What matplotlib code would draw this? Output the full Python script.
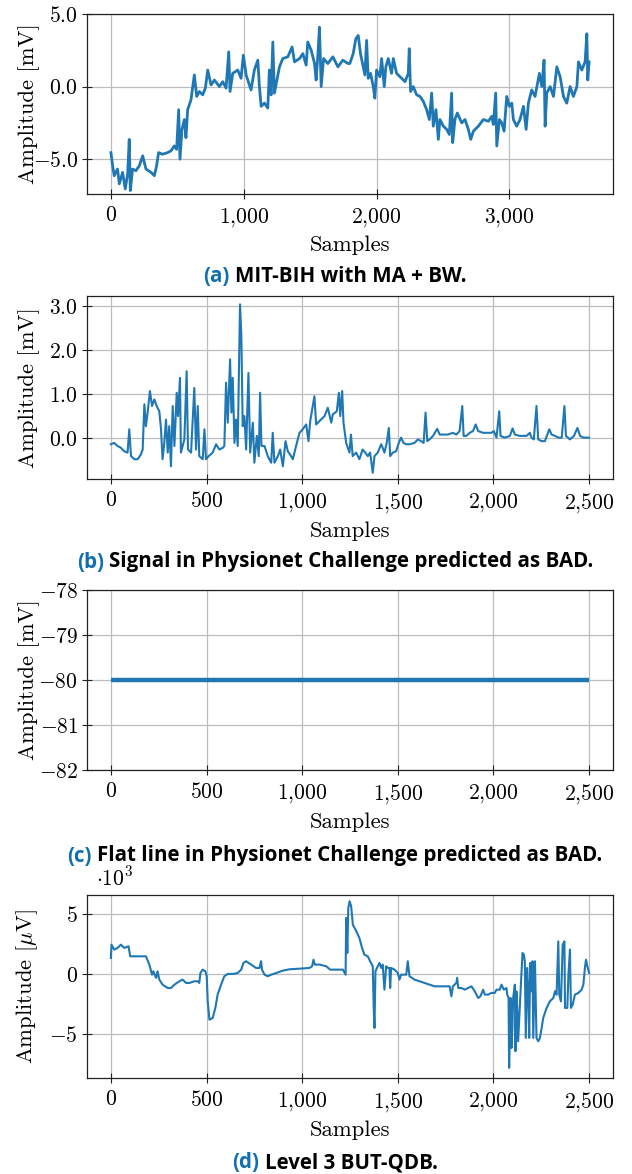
import matplotlib
matplotlib.use("Agg")
import matplotlib.pyplot as plt
from matplotlib.ticker import FuncFormatter, FixedLocator

# (a) MIT-BIH with MA + BW  [mV]
a_samples = [0, 13, 25, 50, 63, 88, 108, 126, 138, 146, 163, 188, 214, 239, 264, 302, 327, 344,
             359, 389, 427, 452, 477, 495, 510, 520, 535, 553, 565, 578, 603, 628, 646, 666, 691,
             711, 729, 754, 779, 817, 842, 867, 887, 897, 917, 955, 980, 997, 1018, 1055, 1080,
             1106, 1118, 1131, 1156, 1181, 1193, 1206, 1219, 1231, 1269, 1294, 1332, 1364, 1382,
             1420, 1445, 1470, 1482, 1508, 1533, 1545, 1558, 1570, 1583, 1601, 1633, 1671, 1709,
             1746, 1784, 1799, 1824, 1844, 1862, 1879, 1899, 1912, 1925, 1937, 1955, 1975, 1987,
             2000, 2025, 2038, 2058, 2070, 2088, 2113, 2126, 2151, 2176, 2214, 2239, 2246, 2256,
             2276, 2302, 2327, 2352, 2377, 2397, 2415, 2427, 2447, 2465, 2477, 2503, 2528, 2548,
             2565, 2573, 2590, 2608, 2641, 2666, 2691, 2709, 2729, 2766, 2804, 2842, 2867, 2879,
             2897, 2905, 2925, 2942, 2960, 2980, 3000, 3018, 3030, 3055, 3080, 3106, 3126, 3143,
             3168, 3193, 3226, 3244, 3261, 3269, 3281, 3307, 3332, 3357, 3382, 3407, 3432, 3457,
             3482, 3508, 3520, 3545, 3570, 3583, 3590, 3600]
a_values = [-4.55, -5.45, -6.14, -5.68, -6.70, -5.91, -7.05, -6.02, -3.64, -7.16, -5.68, -5.80,
            -5.45, -4.77, -5.68, -5.91, -6.14, -5.45, -4.55, -4.66, -4.55, -4.43, -4.09, -4.32,
            -1.59, -5.00, -2.95, -2.27, -3.52, -1.59, -0.91, 0.80, -0.68, -0.34, -0.57, -0.11,
            1.14, 0.11, 0.45, 0.00, 0.34, -0.11, 2.39, -0.34, 0.91, 1.14, 0.57, 2.16, 0.80, -0.23,
            1.14, 1.82, 0.00, -1.36, -1.14, -1.48, 1.14, -0.57, 3.07, -0.45, 1.36, 1.93, 2.05,
            2.73, 1.70, 1.93, 2.27, 1.48, 3.07, 2.50, 1.59, 0.45, 2.16, 4.09, 0.00, 1.93, 1.59,
            2.05, 1.36, 1.82, 1.59, 1.59, 2.27, 3.30, 3.52, 2.27, 1.36, 0.80, 3.18, 0.57, 0.91,
            0.00, -0.80, 1.14, 0.68, 1.93, 0.00, 1.36, 1.93, 0.91, 1.93, 0.91, 0.68, 0.34, 0.91,
            2.61, -0.34, 0.00, -0.57, -0.68, -1.02, -1.59, -2.27, -0.45, -2.73, -1.59, -3.64,
            -2.27, -2.73, -2.95, -3.30, -0.45, -3.86, -2.27, -1.82, -2.50, -2.27, -2.95, -3.64,
            -3.07, -2.73, -2.27, -2.39, -2.05, -2.61, -0.45, -4.09, -2.27, -2.50, -3.07, -0.68,
            -1.36, -1.14, -2.27, -2.73, -2.27, -1.36, -2.95, -1.14, -0.23, -0.68, 0.91, 0.00,
            1.82, -2.73, -0.45, 0.00, -0.68, 1.36, 0.68, -0.68, -1.14, 0.00, -0.68, 0.00, 1.70,
            1.14, 1.70, 3.64, 0.45, 1.70]

# (b) Physionet Challenge, predicted BAD  [mV]
b_samples = [0, 17, 35, 52, 70, 87, 96, 105, 122, 140, 157, 166, 175, 183, 192, 204, 215, 227,
             239, 253, 262, 270, 279, 288, 297, 305, 314, 323, 332, 344, 351, 361, 366, 384, 396,
             403, 419, 436, 445, 454, 462, 480, 489, 497, 511, 532, 550, 567, 585, 593, 602, 611,
             623, 630, 637, 646, 654, 663, 675, 682, 689, 698, 707, 719, 728, 742, 750, 763, 773,
             780, 787, 803, 820, 838, 846, 855, 873, 885, 899, 913, 925, 942, 951, 968, 986, 1003,
             1021, 1033, 1042, 1064, 1073, 1091, 1117, 1134, 1152, 1160, 1181, 1192, 1199, 1209,
             1216, 1230, 1247, 1255, 1264, 1282, 1299, 1316, 1330, 1343, 1355, 1369, 1378, 1395,
             1413, 1421, 1430, 1442, 1453, 1460, 1474, 1491, 1505, 1517, 1530, 1544, 1561, 1587,
             1605, 1622, 1635, 1645, 1654, 1666, 1684, 1706, 1719, 1736, 1762, 1788, 1806, 1823,
             1837, 1844, 1858, 1876, 1893, 1907, 1920, 1946, 1972, 1989, 2002, 2016, 2030, 2037,
             2059, 2086, 2100, 2112, 2138, 2156, 2173, 2190, 2199, 2211, 2225, 2234, 2252, 2269,
             2292, 2304, 2322, 2339, 2357, 2371, 2379, 2400, 2421, 2439, 2453, 2470, 2488, 2500]
b_values = [-0.14, -0.11, -0.18, -0.22, -0.30, -0.33, 0.20, -0.41, -0.48, -0.48, -0.37, -0.26,
            0.77, 0.27, 0.58, 1.07, 0.73, 0.88, 0.73, 0.61, 0.20, -0.48, -0.11, 0.42, -0.33, 0.27,
            -0.64, 0.73, -0.18, 1.03, 0.50, 1.37, -0.33, -0.03, 1.52, -0.26, -0.33, 1.14, -0.26,
            0.73, -0.41, -0.48, 0.20, -0.48, -0.41, -0.33, -0.14, -0.26, -0.22, -0.18, 1.26, 0.35,
            1.79, 0.58, 1.37, -0.11, 0.42, -0.18, 3.04, 2.32, 0.27, 0.50, -0.26, 1.48, -0.33,
            0.35, -0.56, 0.05, -0.41, 1.03, -0.18, -0.18, -0.41, -0.56, 0.12, -0.56, -0.41, -0.26,
            -0.64, -0.07, -0.30, -0.41, -0.48, -0.18, 0.12, 0.20, 0.31, -0.07, 0.39, 0.95, 0.31,
            0.39, 0.50, 0.69, 0.35, 0.54, 0.61, 1.03, 0.50, 1.07, 0.35, -0.11, -0.33, 0.08, -0.41,
            -0.33, -0.48, -0.26, -0.33, -0.41, -0.33, -0.79, -0.41, -0.33, -0.14, -0.22, -0.33,
            -0.11, 0.23, -0.41, -0.33, -0.30, -0.11, 0.01, -0.11, -0.14, -0.14, -0.11, -0.03,
            -0.07, -0.11, 0.58, -0.07, -0.03, 0.05, 0.21, 0.08, 0.08, 0.08, 0.12, 0.08, 0.16, 0.73,
            0.05, 0.05, 0.12, 0.16, 0.31, 0.16, 0.12, 0.12, 0.12, 0.16, 0.01, 0.61, 0.05, 0.01,
            0.05, 0.22, 0.08, 0.05, 0.05, 0.05, 0.12, 0.01, -0.03, 0.73, -0.03, -0.07, -0.07, 0.20,
            0.08, 0.05, 0.01, 0.01, 0.73, 0.05, -0.03, 0.05, 0.23, 0.05, 0.01, 0.01, 0.01]

# (c) flat line  [mV]
c_samples = [0, 2500]
c_values = [-80.0, -80.0]

# (d) Level 3 BUT-QDB  [uV]
d_samples = [0, 3, 17, 35, 52, 70, 92, 101, 113, 140, 166, 183, 201, 215, 222, 236, 244, 253,
             270, 297, 314, 332, 358, 375, 393, 410, 436, 454, 462, 468, 480, 494, 501, 506, 515,
             532, 546, 558, 576, 593, 611, 637, 663, 681, 693, 707, 733, 759, 777, 785, 790, 803,
             820, 838, 864, 899, 934, 986, 1038, 1052, 1059, 1066, 1091, 1126, 1146, 1178, 1213,
             1227, 1230, 1236, 1241, 1248, 1256, 1265, 1283, 1299, 1313, 1325, 1343, 1355, 1369,
             1374, 1378, 1383, 1395, 1404, 1413, 1421, 1430, 1439, 1448, 1456, 1460, 1465, 1483,
             1500, 1509, 1517, 1544, 1552, 1561, 1587, 1614, 1640, 1666, 1692, 1719, 1745, 1771,
             1780, 1788, 1806, 1810, 1816, 1832, 1850, 1867, 1885, 1902, 1920, 1932, 1946, 1955,
             1972, 1990, 2007, 2016, 2033, 2042, 2054, 2068, 2072, 2079, 2082, 2089, 2094, 2099,
             2103, 2112, 2115, 2120, 2125, 2129, 2134, 2146, 2152, 2159, 2164, 2169, 2176, 2181,
             2187, 2192, 2199, 2204, 2208, 2217, 2225, 2234, 2243, 2252, 2260, 2278, 2295, 2313,
             2322, 2330, 2339, 2344, 2353, 2362, 2371, 2374, 2386, 2392, 2400, 2405, 2414, 2426,
             2444, 2461, 2470, 2479, 2484, 2491, 2500]
d_values = [1330, 2440, 2030, 2170, 2440, 2170, 2310, 1470, 1470, 1470, 1470, 1470, 780, -60, 220,
            -330, 220, -470, -890, -1170, -1170, -890, -610, -470, -750, -750, -610, -610, -750,
            80, 360, 220, -190, -2280, -3810, -3670, -2830, -1720, -890, -190, 0, 0, 80, 360, 920,
            1060, 780, 500, 500, 1060, 360, -60, -190, -60, 80, 280, 390, 440, 500, 640, 1190, 780,
            780, 640, 360, 360, 360, -60, 4670, 1750, 5500, 6060, 5640, 4110, 3560, 3000, 2170,
            1610, 1470, 1060, 640, -2830, -4500, 220, 640, 920, 500, 780, -1310, 640, 500, 500,
            -1170, 500, 360, 80, -470, -60, -60, 1060, -190, -470, -610, -750, -890, -1030, -1030,
            -1030, -1030, -1860, -1030, -750, -330, -1170, -1170, -1310, -1170, -1030, -1440,
            -2000, -1860, -1310, -1720, -1720, -1580, -1580, -1310, -1310, -890, -1310, -1170,
            -1720, -2000, -7830, -2000, -6170, -4500, -2000, -890, -6440, -1440, -3110, -5610,
            -3940, -60, 1750, 1610, 1060, -5330, 500, -1170, -5330, 920, -1440, 1060, -5330, 1060,
            -5330, -5610, -5330, -4500, -3670, -2830, -2280, -2000, -1440, -1720, 2720, -1720,
            -2280, 2440, 2720, -2830, -2830, -60, 2030, -2830, -2560, -1720, -1580, -1310, -890,
            640, 1190, 640, 80]

captions = [("(a)", "MIT-BIH with MA + BW."),
            ("(b)", "Signal in Physionet Challenge predicted as BAD."),
            ("(c)", "Flat line in Physionet Challenge predicted as BAD."),
            ("(d)", "Level 3 BUT-QDB.")]

plt.rcParams['font.family'] = 'serif'
plt.rcParams['font.serif'] = ['cmr10']
plt.rcParams['mathtext.fontset'] = 'cm'
plt.rcParams['axes.unicode_minus'] = False
plt.rcParams['axes.formatter.use_mathtext'] = True

W, H = 632, 1174
LINE = '#1f77b4'
CAPBLUE = '#0f6fb0'
FS = 15.5
LFS = 16.3

fig = plt.figure(figsize=(W / 100, H / 100), dpi=100)


def make_ax(top, bottom, left=87, right=613):
    return fig.add_axes([left / W, 1 - bottom / H, (right - left) / W, (bottom - top) / H])


def sci(fmt):
    def f(v, pos):
        s = format(v, fmt).replace(',', '{,}')
        return '$' + s + '$'
    return FuncFormatter(f)


def style(ax, xticks, yticks, yfmt, ylabel):
    ax.xaxis.set_major_locator(FixedLocator(xticks))
    ax.yaxis.set_major_locator(FixedLocator(yticks))
    ax.xaxis.set_major_formatter(sci(',.0f'))
    ax.yaxis.set_major_formatter(sci(yfmt))
    ax.grid(True, color='#bdbdbd', lw=0.9)
    ax.set_axisbelow(True)
    ax.tick_params(direction='inout', length=7, width=0.8, color='#222222',
                   labelsize=FS, top=False, right=False)
    ax.tick_params(axis='x', pad=5)
    ax.tick_params(axis='y', pad=3)
    for s in ax.spines.values():
        s.set_linewidth(0.9)
        s.set_color('#222222')
    ax.set_xlabel('Samples', fontsize=LFS, labelpad=5)
    ax.set_ylabel(ylabel, fontsize=LFS)
    ax.yaxis.set_label_coords(-0.089, 0.5)


ax = make_ax(14, 194)
ax.plot(a_samples, a_values, color=LINE, lw=2.0)
ax.set_xlim(-180, 3780)
ax.set_ylim(-7.4, 5.0)
style(ax, [0, 1000, 2000, 3000], [-5, 0, 5], '.1f', 'Amplitude [mV]')

ax = make_ax(296, 479)
ax.plot(b_samples, b_values, color=LINE, lw=1.5)
ax.set_xlim(-125, 2625)
ax.set_ylim(-0.93, 3.23)
style(ax, [0, 500, 1000, 1500, 2000, 2500], [0, 1, 2, 3], '.1f', 'Amplitude [mV]')

ax = make_ax(590, 770)
ax.plot(c_samples, c_values, color=LINE, lw=3.2, solid_capstyle='butt')
ax.set_xlim(-125, 2625)
ax.set_ylim(-82, -78)
style(ax, [0, 500, 1000, 1500, 2000, 2500], [-82, -81, -80, -79, -78], '.0f', 'Amplitude [mV]')

ax = make_ax(895, 1078)
ax.plot(d_samples, [v / 1000 for v in d_values], color=LINE, lw=1.5)
ax.set_xlim(-125, 2625)
ax.set_ylim(-8.67, 6.58)
style(ax, [0, 500, 1000, 1500, 2000, 2500], [-5, 0, 5], '.0f', r'Amplitude [$\mu$V]')
ax.text(0.017, 1.03, r'$\cdot10^{3}$', transform=ax.transAxes, fontsize=FS, va='bottom', ha='left')

# captions: blue tag + bold black text, centred
cap_y = [277, 562, 856, 1163]
renderer = fig.canvas.get_renderer()
kw = dict(fontsize=14.8, fontweight='bold', family='Open Sans', va='center')
for (tag, txt), yc in zip(captions, cap_y):
    t1 = fig.text(0, 1 - yc / H, tag, color=CAPBLUE, **kw)
    t2 = fig.text(0, 1 - yc / H, txt, color='black', **kw)
    w1 = t1.get_window_extent(renderer).width
    w2 = t2.get_window_extent(renderer).width
    gap = 5
    x0 = 335 - (w1 + gap + w2) / 2
    t1.set_x(x0 / W)
    t2.set_x((x0 + w1 + gap) / W)

fig.savefig('out.png', dpi=100)
